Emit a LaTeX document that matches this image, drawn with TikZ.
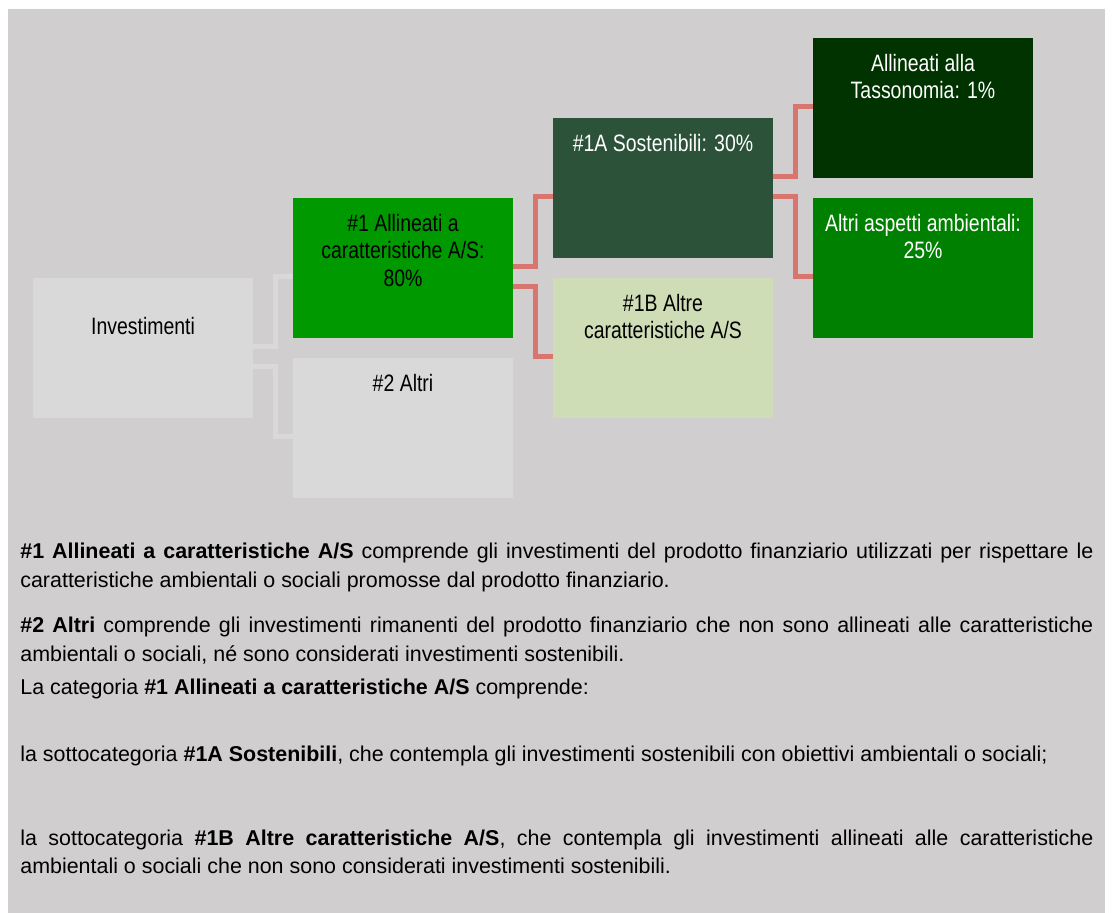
\documentclass[tikz,border=0pt]{standalone}
\usepackage{fontspec}
\setmainfont{Liberation Sans}
\newfontfamily\narrowsans[FakeStretch=0.82]{Liberation Sans}
\newcommand\boxfont{\narrowsans\fontsize{13.5}{15.6}\selectfont}
{\boxfont\global\fontdimen2\font=3.1pt}
\hyphenpenalty=10000
\exhyphenpenalty=10000
\tolerance=9999
\begin{document}
\begin{tikzpicture}[x=0.2mm, y=-0.2mm,
  box/.style={minimum width=44mm, minimum height=28mm, inner sep=0pt, outer sep=0pt, draw=none},
  boxtext/.style={anchor=base, inner sep=0pt, text width=42mm, align=flush center, font=\boxfont},
  link/.style={line width=1mm},
  para/.style={anchor=base west, inner sep=0pt, text width=214.6mm, align=justify, font=\fontsize{12.2}{16.2}\selectfont}]
\definecolor{bggray}{HTML}{D0CECE}
\definecolor{boxgray}{HTML}{D9D9D9}
\definecolor{greenall}{HTML}{009900}
\definecolor{greensost}{HTML}{2C523A}
\definecolor{greenaltre}{HTML}{CEDDB6}
\definecolor{greentax}{HTML}{003300}
\definecolor{greenamb}{HTML}{008000}
\definecolor{linkred}{HTML}{D9756F}
\useasboundingbox (0,0) rectangle (1112,913);
\fill[bggray] (8,9) rectangle (1105,913);
\foreach \name/\x/\y/\col in {inv/143/348/boxgray, n1/403/268/greenall, n2/403/428/boxgray, a/663/188/greensost, b/663/348/greenaltre, tax/923/108/greentax, alt/923/268/greenamb}
  \node[box, fill=\col] (\name) at (\x,\y) {};
\foreach \src/\sy/\dst/\dy/\col in {inv/-1.5/n1/8.5/boxgray, inv/18.5/n2/8.5/boxgray, n1/-2/a/8.5/linkred, n1/18.5/b/8.5/linkred, a/-11.5/tax/-1.5/linkred, a/8.5/alt/8.5/linkred}
  \draw[link, draw=\col] (\src.east) ++(0,\sy) -- ++(22.5,0) |- ([shift={(0,\dy)}]\dst.west);
\node[boxtext] (inv-t) at ([shift={(0,-13.3)}]inv.center) {Investimenti};
\node[boxtext] (n1-t) at ([shift={(0,-36.5)}]n1.center) {\#1 Allineati a\\caratteristiche A/S:\\80\%};
\node[boxtext] (n2-t) at ([shift={(0,-36.5)}]n2.center) {\#2 Altri};
\node[boxtext, text=white] (a-t) at ([shift={(0,-36.5)}]a.center) {\#1A Sostenibili: 30\%};
\node[boxtext] (b-t) at ([shift={(0,-36.5)}]b.center) {\#1B Altre\\caratteristiche A/S};
\node[boxtext, text=white] (tax-t) at ([shift={(0,-36.5)}]tax.center) {Allineati alla\\Tassonomia: 1\%};
\node[boxtext, text=white] (alt-t) at ([shift={(0,-36.5)}]alt.center) {Altri aspetti ambientali:\\25\%};
\node[para] (p1) at (20,558.7) {\textbf{\#1 Allineati a caratteristiche A/S} comprende gli investimenti del prodotto finanziario utilizzati per rispettare le \linebreak caratteristiche ambientali o sociali promosse dal prodotto finanziario.};
\node[para] (p2) at (20,632.7) {\textbf{\#2 Altri} comprende gli investimenti rimanenti del prodotto finanziario che non sono allineati alle caratteristiche \linebreak ambientali o sociali, né sono considerati investimenti sostenibili.};
\node[para] (p3) at (20,694.5) {La categoria \textbf{\#1 Allineati a caratteristiche A/S} comprende:};
\node[para] (p4) at (20,761) {la sottocategoria \textbf{\#1A Sostenibili}, che contempla gli investimenti sostenibili con obiettivi ambientali o sociali;};
\node[para] (p5) at (20,845) {la sottocategoria \textbf{\#1B Altre caratteristiche A/S}, che contempla gli investimenti allineati alle caratteristiche \linebreak ambientali o sociali che non sono considerati investimenti sostenibili.};
\end{tikzpicture}
\end{document}
